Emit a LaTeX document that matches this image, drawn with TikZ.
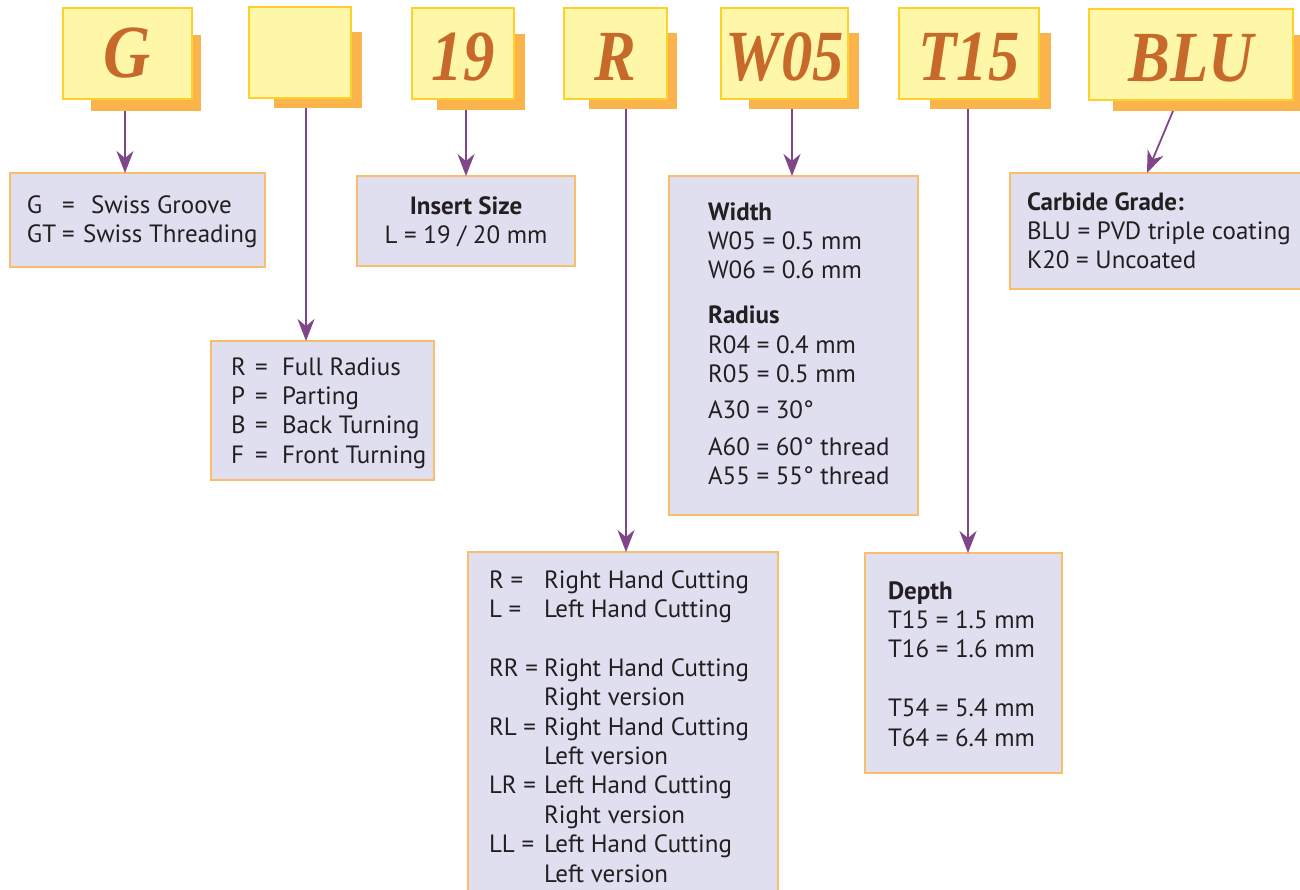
\documentclass[tikz,border=0pt]{standalone}
\usepackage{graphicx}
\usepackage{fontspec}
\setmainfont{PT Sans}
\newfontfamily\topfont{Liberation Serif}
\usetikzlibrary{arrows.meta}
\definecolor{ybox}{HTML}{FFF7A8}
\definecolor{yborder}{HTML}{FFD02A}
\definecolor{shad}{HTML}{FBB44C}
\definecolor{ttext}{HTML}{C6692B}
\definecolor{lbox}{HTML}{E0DFF0}
\definecolor{lborder}{HTML}{F8BE6C}
\definecolor{arrc}{HTML}{7F478A}
\definecolor{dtext}{HTML}{231F20}
\newcommand\myrows[1]{\vtop{\baselineskip=29.4pt\lineskiplimit=-100pt\halign{##\hfil&##\hfil\cr#1\crcr}}}
\newcommand\mycrows[1]{\vtop{\baselineskip=29.4pt\lineskiplimit=-100pt\halign{\hfil##\hfil\cr#1\crcr}}}
\newcommand\topt[1]{\scalebox{0.87}[1]{#1}}
\begin{document}
\begin{tikzpicture}[x=1pt,y=-1pt,
  topbox/.style={draw=yborder,fill=ybox,line width=1.4pt,inner sep=0pt,outer sep=0pt,anchor=north west,
    minimum height=91pt,text=ttext,text height=53pt,text depth=0pt,
    font=\topfont\bfseries\itshape\fontsize{72}{72}\selectfont},
  shadowbox/.style={fill=shad,inner sep=0pt,outer sep=0pt,anchor=north west},
  descbox/.style={draw=lborder,fill=lbox,line width=1.2pt,inner sep=0pt,outer sep=0pt,anchor=north west},
  txt/.style={inner sep=0pt,outer sep=0pt,anchor=base west,text=dtext,font=\fontsize{25}{29.4}\selectfont},
  arr/.style={draw=arrc,line width=1.8pt,-{Stealth[length=22pt,width=17pt,inset=7pt]}}]
\useasboundingbox (0,0) rectangle (1300,889);
% shadows
\node[shadowbox,minimum width=110pt,minimum height=76pt] (gs) at (91,35) {};
\node[shadowbox,minimum width=88pt,minimum height=76pt] (bs) at (274,32) {};
\node[shadowbox,minimum width=88pt,minimum height=76pt] (ss) at (437,34) {};
\node[shadowbox,minimum width=88pt,minimum height=76pt] (rs) at (589,33) {};
\node[shadowbox,minimum width=110pt,minimum height=76pt] (ws) at (749,33) {};
\node[shadowbox,minimum width=121pt,minimum height=76pt] (ts) at (930,33) {};
\node[shadowbox,minimum width=190pt,minimum height=76pt] (us) at (1113,35) {};
% top boxes
\node[topbox,minimum width=129pt,text height=47pt,font=\topfont\bfseries\itshape\fontsize{75}{75}\selectfont] (g) at (63,8) {\topt{G}};
\node[topbox,minimum width=102pt] (b) at (249,7) {};
\node[topbox,minimum width=102pt] (s) at (412,8) {\topt{19}};
\node[topbox,minimum width=103pt] (r) at (564,8) {\topt{R}};
\node[topbox,minimum width=127pt] (w) at (721,8) {\topt{W05}};
\node[topbox,minimum width=140pt] (t) at (899,8) {\topt{T15}};
\node[topbox,minimum width=204pt] (u) at (1089,9) {\topt{BLU}};
% description boxes
\node[descbox,minimum width=255pt,minimum height=94pt] (gd) at (10,173) {};
\node[descbox,minimum width=223pt,minimum height=139pt] (bd) at (211,341) {};
\node[descbox,minimum width=218pt,minimum height=90pt] (sd) at (357,176) {};
\node[descbox,minimum width=249pt,minimum height=339pt] (wd) at (669,176) {};
\node[descbox,minimum width=310pt,minimum height=350pt] (rd) at (468,552) {};
\node[descbox,minimum width=197pt,minimum height=220pt] (td) at (865,553) {};
\node[descbox,minimum width=300pt,minimum height=116pt] (cd) at (1010,173) {};
% texts
\node[txt] (gdt) at (27,213) {\myrows{\makebox[35pt][l]{G}\makebox[29pt][l]{=}Swiss Groove\cr
  \makebox[35pt][l]{GT}\makebox[21pt][l]{=}Swiss Threading\cr}};
\node[txt] (bdt) at (231,375) {\myrows{\makebox[24pt][l]{R}\makebox[27pt][l]{=}Full Radius\cr
  \makebox[24pt][l]{P}\makebox[27pt][l]{=}Parting\cr
  \makebox[24pt][l]{B}\makebox[27pt][l]{=}Back Turning\cr
  \makebox[24pt][l]{F}\makebox[27pt][l]{=}Front Turning\cr}};
\node[txt,anchor=base] (sdt) at (466,214) {\mycrows{\textbf{Insert Size}\cr L = 19 / 20 mm\cr}};
\node[txt] (wdt) at (708,220) {\myrows{\textbf{Width}\cr W05 = 0.5 mm\cr W06 = 0.6 mm\cr
  \noalign{\vskip 15.6pt}
  \textbf{Radius}\cr R04 = 0.4 mm\cr R05 = 0.5 mm\cr
  \noalign{\vskip 6.6pt}
  A30 = 30°\cr
  \noalign{\vskip 7.4pt}
  A60 = 60° thread\cr A55 = 55° thread\cr}};
\node[txt] (rdt) at (489,588) {\myrows{\makebox[55pt][l]{R =}&Right Hand Cutting\cr
  L =&Left Hand Cutting\cr
  \noalign{\vskip 29.4pt}
  RR =&Right Hand Cutting\cr &Right version\cr
  RL =&Right Hand Cutting\cr &Left version\cr
  LR =&Left Hand Cutting\cr &Right version\cr
  LL =&Left Hand Cutting\cr &Left version\cr}};
\node[txt] (tdt) at (888,599) {\myrows{\textbf{Depth}\cr T15 = 1.5 mm\cr T16 = 1.6 mm\cr
  \noalign{\vskip 29.4pt}
  T54 = 5.4 mm\cr T64 = 6.4 mm\cr}};
\node[txt] (cdt) at (1027,210) {\myrows{\textbf{Carbide Grade:}\cr BLU = PVD triple coating\cr K20 = Uncoated\cr}};
% arrows
\coordinate (ga) at (125,0);
\coordinate (ba) at (306,0);
\coordinate (sa) at (466,0);
\coordinate (ra) at (626,0);
\coordinate (wa) at (792,0);
\coordinate (ta) at (968,0);
\coordinate (ua) at (1173,0);
\coordinate (ub) at (1147,0);
\draw[arr] (gs.south -| ga) -- (gd.north -| ga);
\draw[arr] (bs.south -| ba) -- (bd.north -| ba);
\draw[arr] (ss.south -| sa) -- (sd.north -| sa);
\draw[arr] (rs.south -| ra) -- (rd.north -| ra);
\draw[arr] (ws.south -| wa) -- (wd.north -| wa);
\draw[arr] (ts.south -| ta) -- (td.north -| ta);
\draw[arr] (us.south -| ua) -- (cd.north -| ub);
\end{tikzpicture}
\end{document}
